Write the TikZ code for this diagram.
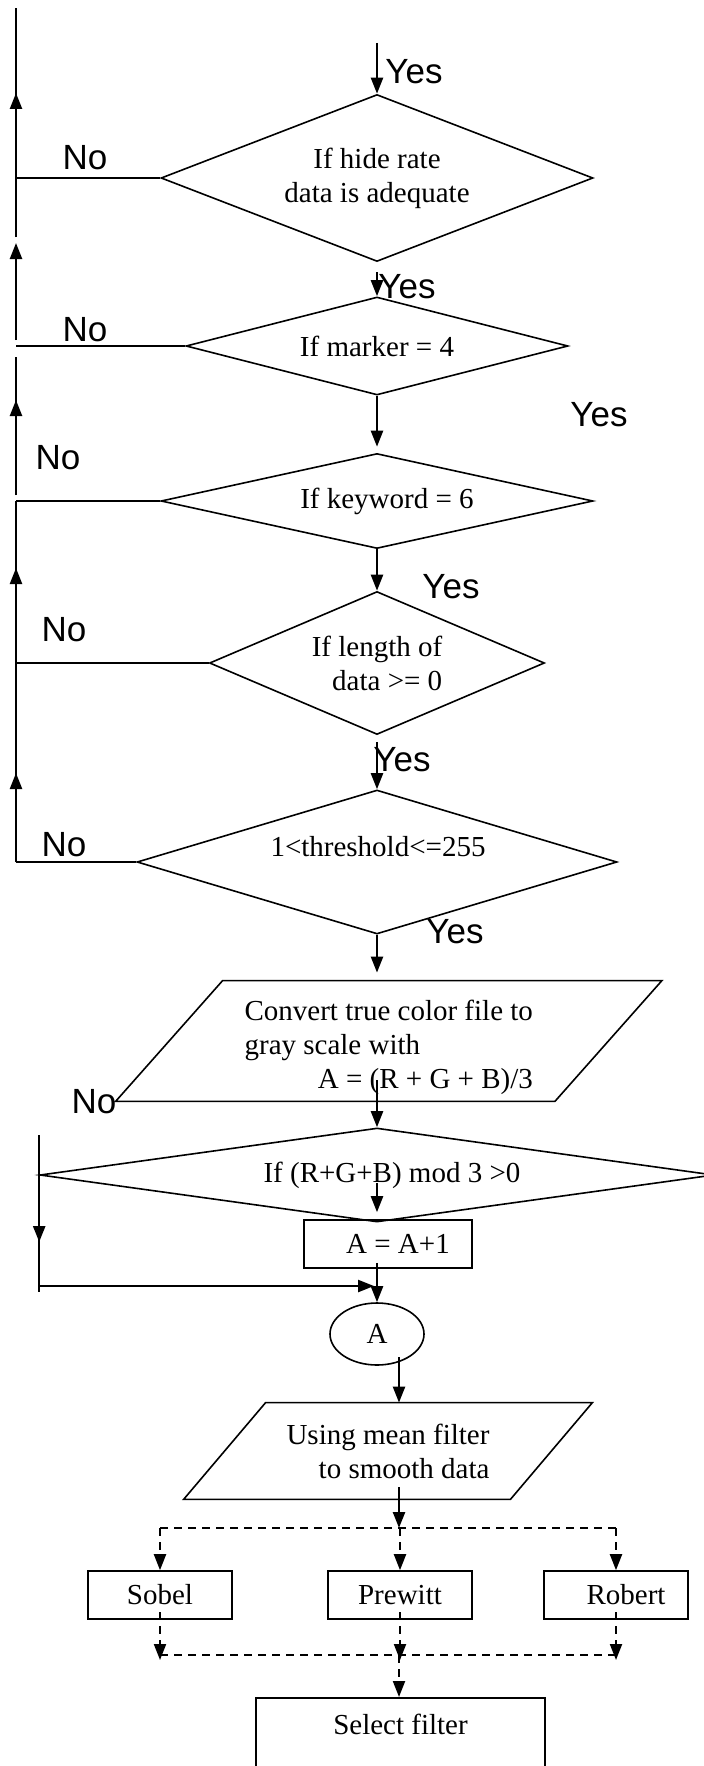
\documentclass[tikz,border=0pt]{standalone}
\usepackage{fontspec}
\setmainfont{Liberation Serif}
\newfontfamily\yesnofont{Liberation Sans}
\usetikzlibrary{shapes.geometric,arrows.meta}

\begin{document}
\begin{tikzpicture}[x=0.5pt,y=-0.5pt,
    every node/.style={font=\fontsize{14.5}{17}\selectfont},
    shp/.style={draw,line width=0.8pt},
    dia/.style={shp,diamond,inner sep=0pt},
    box/.style={shp,rectangle,minimum width=72pt,minimum height=24pt,inner sep=0pt},
    yn/.style={font=\fontsize{17.5}{20}\yesnofont},
    ln/.style={line width=0.8pt},
    sp/.style={line width=1.2pt},
    arr/.style={line width=1.2pt,-{Triangle[length=8pt,width=6pt]}},
    dln/.style={line width=1pt,dash pattern=on 4pt off 3pt},
    darr/.style={arr,line width=1pt,dash pattern=on 4pt off 3pt}]
    \useasboundingbox (0,0) rectangle (703,1766);
    %% Tests
    \node[dia,shape aspect=2.6,minimum width=216pt,minimum height=83.5pt,align=center] (d1) at (377,178) {If hide rate\\data is adequate};
    \node[dia,shape aspect=3.9,minimum width=191pt,minimum height=49pt] (d2) at (377,346) {If marker = 4};
    \node[dia,shape aspect=4.5,minimum width=216pt,minimum height=47.5pt] (d3) at (377,501) {\hspace{10pt}If keyword = 6};
    \node[dia,shape aspect=2.3,minimum width=167.5pt,minimum height=71.5pt,align=right] (d4) at (377,663) {If length of\\data >= 0};
    \node[dia,shape aspect=3.3,minimum width=240pt,minimum height=72pt] (d5) at (377,862) {};
    \node (d5txt) at (378,847) {1<threshold<=255};
    %% Gray scale
    \node[minimum width=219.25pt,minimum height=60pt,inner sep=0pt] (conv) at (388.75,1048)
        {\begin{tabular}{@{}l@{}}Convert true color file to\\gray scale with\\\multicolumn{1}{@{}r@{}}{A = (R + G + B)/3}\end{tabular}};
    \draw[ln] ([xshift=26.75pt,yshift=3.5pt]conv.north west) -- ([xshift=26.75pt,yshift=3.5pt]conv.north east)
        -- ([xshift=-26.75pt,yshift=3.5pt]conv.south east) -- ([xshift=-26.75pt,yshift=3.5pt]conv.south west) -- cycle;
    \node[dia,shape aspect=7,minimum width=337pt,minimum height=47pt] (d6) at (377,1175) {\hspace{15pt}If (R+G+B) mod 3 >0};
    \node[box,minimum width=84pt] (inc) at (388,1244) {\hspace{10pt}A = A+1};
    \node[shp,ellipse,minimum width=47pt,minimum height=31pt,inner sep=0pt] (circA) at (377,1334) {A};
    %% Smoothing
    \node[minimum width=163pt,minimum height=48pt,align=right,inner sep=0pt] (smooth) at (388,1451)
        {Using mean filter\\to smooth data};
    \draw[ln] ([xshift=20.5pt]smooth.north west) -- ([xshift=20.5pt]smooth.north east)
        -- ([xshift=-20.5pt]smooth.south east) -- ([xshift=-20.5pt]smooth.south west) -- cycle;
    %% Filters
    \node[box] (sobel) at (160,1595) {Sobel};
    \node[box] (prewitt) at (400,1595) {Prewitt};
    \node[box] (robert) at (616,1595) {\hspace{10pt}Robert};
    \node[box,minimum width=144.5pt,anchor=north,text height=10pt,text depth=40pt,inner ysep=8.5pt] (sel) at (400.5,1697) {Select filter};
    %% Labels
    \node[yn] (y1) at (414,72) {Yes};
    \node[yn] (y2) at (407,287) {Yes};
    \node[yn] (y3) at (599,415) {Yes};
    \node[yn] (y4) at (451,587) {Yes};
    \node[yn] (y5) at (402,760) {Yes};
    \node[yn] (y6) at (455,932) {Yes};
    \node[yn] (n1) at (85,158) {No};
    \node[yn] (n2) at (85,330) {No};
    \node[yn] (n3) at (58,458) {No};
    \node[yn] (n4) at (64,630) {No};
    \node[yn] (n5) at (64,845) {No};
    \node[yn] (n6) at (94,1102) {No};
    %% Yes arrows
    \coordinate (start) at (377,43);
    \draw[arr] (start) -- (d1.north);
    \draw[arr,shorten <=5pt] (d1.south) -- (d2.north);
    \draw[arr,shorten >=3pt] (d2.south) -- (d3.north);
    \draw[arr] (d3.south) -- (d4.north);
    \draw[arr,shorten <=3.5pt] (d4.south) -- (d5.north);
    \draw[arr,shorten >=7.5pt] (d5.south) -- (d5.south |- conv.north);
    \draw[arr] (d6.north |- conv.south) ++(0,-28) -- (d6.north);
    \draw[arr,shorten >=3.5pt] (d6.center) ++(0,8) -- (d6.center |- inc.north);
    \draw[arr] (circA.north |- inc.south) ++(0,-6) -- (circA.north);
    %% Return line
    \coordinate (r0) at (16,8);
    \coordinate (r1) at (16,237);
    \coordinate (r2) at (16,243);
    \coordinate (r3) at (16,340);
    \coordinate (r4) at (16,357);
    \coordinate (r5) at (16,495);
    \draw[sp] (r1) -- (r0);
    \draw[arr] (r1) -- ++(0,-144);
    \draw[arr] (r3) -- (r2);
    \draw[sp] (r5) -- (r4);
    \draw[arr] (r5) -- ++(0,-95);
    \draw[sp] (d5.west -| r0) -- (d3.west -| r0);
    \draw[arr] (d5.west -| r0) -- ++(0,-89);
    \draw[arr] (d4.west -| r0) -- ++(0,-95);
    %% No lines
    \foreach \d in {d1,d2,d3,d4,d5}
        \draw[ln] (\d.west) -- (\d.west -| r0);
    \coordinate (join) at (377,1286);
    \draw[sp] (d6.west) ++(0,-40) -- ++(0,157);
    \draw[arr] (d6.west) -- ++(0,67);
    \draw[arr,shorten >=1.5pt] (d6.west |- join) -- (join);
    %% Filter split
    \coordinate (col) at (399,1357);
    \coordinate (split) at (399,1528);
    \coordinate (merge) at (399,1655);
    \draw[arr] (col) -- (col |- smooth.north);
    \draw[arr] (smooth.south -| col) ++(0,-12) -- (split);
    \draw[dln] (sobel.north |- split) -- (robert.north |- split);
    \foreach \f in {sobel,prewitt,robert}
        \draw[darr] (\f.north |- split) -- (\f.north);
    \foreach \f in {sobel,prewitt,robert}
        \draw[darr] (\f.center) ++(0,17) -- ++(0,48);
    \draw[dln] (sobel.south |- merge) -- (robert.south |- merge);
    \draw[darr] (merge) -- (merge |- sel.north);
\end{tikzpicture}
\end{document}
